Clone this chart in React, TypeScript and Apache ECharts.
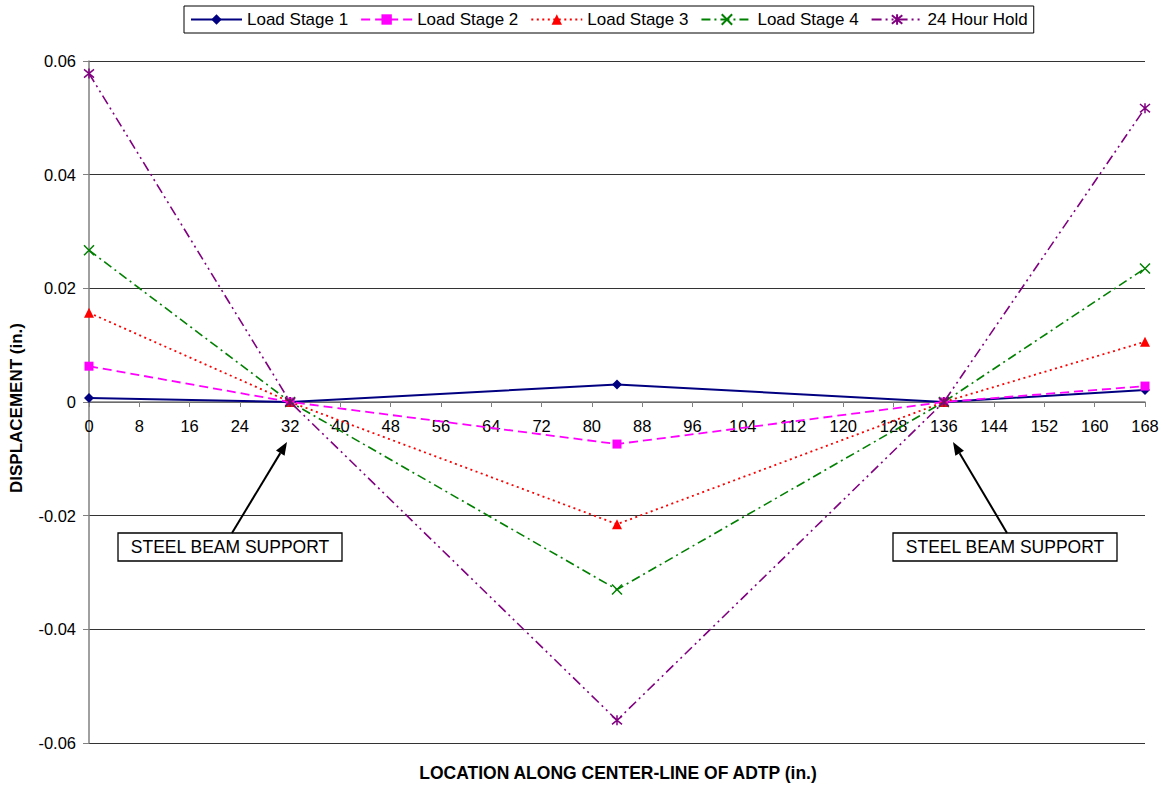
import React, { useEffect, useRef } from "react";
import * as echarts from "echarts";

const locations = [0, 32, 84, 136, 168];
const seriesNames = ["Load Stage 1", "Load Stage 2", "Load Stage 3", "Load Stage 4", "24 Hour Hold"];
const stage1 = [0.0007, 0, 0.0031, 0, 0.0021];
const stage2 = [0.0063, 0, -0.0074, 0, 0.0028];
const stage3 = [0.0157, 0, -0.0215, 0, 0.0106];
const stage4 = [0.0267, 0, -0.033, 0, 0.0235];
const hold24 = [0.0578, 0, -0.056, 0, 0.0517];
const yTicks = [-0.06, -0.04, -0.02, 0, 0.02, 0.04, 0.06];
const xTickStep = 8;
const annotationText = "STEEL BEAM SUPPORT";

const FONT = "'Liberation Sans', Arial, sans-serif";

const X_PATH = "path://M0,0L10,10M10,0L0,10";
const STAR_PATH = "path://M0,0L10,10M10,0L0,10M5,-1L5,11";

const GRID_TOP = 61;
const GRID_BOTTOM = 44;
const CHART_H = 787;

export default function App() {
  const ref = useRef<HTMLDivElement>(null);

  useEffect(() => {
    document.body.style.margin = "0";
    const chart = echarts.init(ref.current!, null, { renderer: "svg" });
    const toData = (arr: number[]) => locations.map((x, i) => [x, arr[i]]);

    const defs = [
      { data: stage1, color: "#000080", type: "solid" as any, width: 2, symbol: "diamond", size: 10, stroke: false },
      { data: stage2, color: "#FF00FF", type: [9, 5], width: 1.8, symbol: "rect", size: 9, stroke: false },
      { data: stage3, color: "#FF0000", type: [2, 3.5], width: 1.8, symbol: "triangle", size: 10, stroke: false },
      { data: stage4, color: "#008000", type: [9, 4, 2, 4], width: 1.6, symbol: X_PATH, size: 10, stroke: true },
      { data: hold24, color: "#800080", type: [10, 4, 2, 4, 2, 4], width: 1.6, symbol: STAR_PATH, size: 10, stroke: true },
    ];

    const series = defs.map((d, i) => ({
      name: seriesNames[i],
      type: "line",
      data: toData(d.data),
      symbol: d.symbol,
      symbolSize: d.size,
      showSymbol: true,
      lineStyle: { color: d.color, width: d.width, type: d.type },
      itemStyle: d.stroke
        ? { color: d.color, borderColor: d.color, borderWidth: 1.5 }
        : { color: d.color, borderWidth: 0 },
      emphasis: { disabled: true },
      z: 2 + i,
    }));

    const yMin = yTicks[0];
    const yMax = yTicks[yTicks.length - 1];
    const gridH = CHART_H - GRID_TOP - GRID_BOTTOM;
    const zeroOffset = -gridH * ((0 - yMin) / (yMax - yMin));

    chart.setOption({
      animation: false,
      backgroundColor: "#fff",
      textStyle: { fontFamily: FONT },
      legend: {
        left: 184,
        top: 6,
        orient: "horizontal",
        borderColor: "#000",
        borderWidth: 1,
        padding: [5, 6],
        itemWidth: 51,
        itemHeight: 13,
        itemGap: 12,
        textStyle: { fontFamily: FONT, fontSize: 17, color: "#000" },
        data: seriesNames,
      },
      grid: { left: 89, right: 22, top: GRID_TOP, bottom: GRID_BOTTOM, containLabel: false },
      xAxis: {
        type: "value",
        min: 0,
        max: 168,
        interval: xTickStep,
        offset: zeroOffset,
        axisLine: { onZero: false, lineStyle: { color: "#808080", width: 1.5 } },
        axisTick: { show: true, inside: false, length: 5, lineStyle: { color: "#808080" } },
        axisLabel: { fontFamily: FONT, fontSize: 16.5, color: "#000", margin: 15 },
        splitLine: { show: false },
      },
      yAxis: {
        type: "value",
        min: yMin,
        max: yMax,
        interval: 0.02,
        axisLine: { show: true, onZero: false, lineStyle: { color: "#808080", width: 1.5 } },
        axisTick: { show: true, inside: false, length: 6, lineStyle: { color: "#808080" } },
        axisLabel: {
          fontFamily: FONT,
          fontSize: 16.5,
          color: "#000",
          margin: 13,
          formatter: (v: number) => String(Number(v.toFixed(2))),
        },
        splitLine: { show: true, lineStyle: { color: "#333", width: 1 } },
      },
      series,
    });

    const arrow = (x0: number, y0: number, x1: number, y1: number) => {
      const dx = x1 - x0, dy = y1 - y0;
      const len = Math.sqrt(dx * dx + dy * dy);
      const ux = dx / len, uy = dy / len;
      const hl = 13, hw = 5;
      const bx = x1 - ux * hl, by = y1 - uy * hl;
      return [
        { type: "line", shape: { x1: x0, y1: y0, x2: bx, y2: by }, style: { stroke: "#000", lineWidth: 2 }, z: 100 },
        {
          type: "polygon",
          shape: { points: [[x1, y1], [bx - uy * hw, by + ux * hw], [bx + uy * hw, by - ux * hw]] },
          style: { fill: "#000" },
          z: 100,
        },
      ];
    };

    const box = (cx: number, cy: number) => [
      { type: "rect", shape: { x: cx - 112, y: cy - 14, width: 224, height: 28 }, style: { fill: "#fff", stroke: "#000", lineWidth: 1.3 }, z: 100 },
      {
        type: "text",
        x: cx,
        y: cy,
        style: { text: annotationText, fill: "#000", font: `17.5px ${FONT}`, textAlign: "center", textVerticalAlign: "middle" },
        z: 101,
      },
    ];

    chart.setOption({
      graphic: [
        {
          type: "text",
          x: 16,
          y: 408,
          rotation: Math.PI / 2,
          style: { text: "DISPLACEMENT (in.)", fill: "#000", font: `bold 17px ${FONT}`, textAlign: "center", textVerticalAlign: "middle" },
        },
        {
          type: "text",
          x: 618,
          y: 773,
          style: { text: "LOCATION ALONG CENTER-LINE OF ADTP (in.)", fill: "#000", font: `bold 17.5px ${FONT}`, textAlign: "center", textVerticalAlign: "middle" },
        },
        ...box(230, 547),
        ...arrow(232, 533, 287, 442),
        ...box(1005, 547),
        ...arrow(1007, 533, 953, 442),
      ],
    });

    return () => chart.dispose();
  }, []);

  return <div ref={ref} style={{ position: "fixed", left: 0, top: 0, width: 1167, height: 787 }} />;
}
